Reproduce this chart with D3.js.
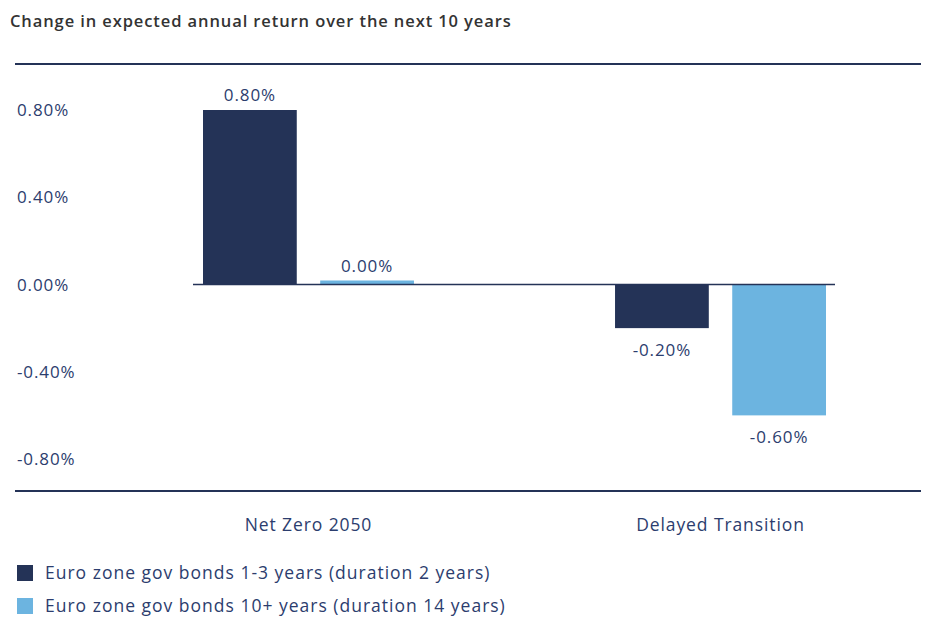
<!DOCTYPE html>
<html><head><meta charset="utf-8">
<script src="https://cdn.jsdelivr.net/npm/d3@7"></script>
<style>body{margin:0;background:#fff;font-family:"Open Sans",sans-serif}text{letter-spacing:0.9px}</style>
</head><body><svg id="chart" width="946" height="633"></svg>
<script>
var categories = ["Net Zero 2050", "Delayed Transition"];
var seriesNames = ["Euro zone gov bonds 1-3 years (duration 2 years)", "Euro zone gov bonds 10+ years (duration 14 years)"];
var shortBonds = [0.80, -0.20];
var longBonds = [0.00, -0.60];
var yTicks = [0.8, 0.4, 0, -0.4, -0.8];
var colors = ["#243357", "#6cb4e0"];
var textColor = "#2c3d6e";

var svg = d3.select("#chart");
var y = d3.scaleLinear().domain([-0.8, 0.8]).range([459, 110]);
var x0 = d3.scaleBand().domain(categories).range([203, 826]).paddingInner(0.488).paddingOuter(0);
var x1 = d3.scaleBand().domain([0, 1]).range([0, x0.bandwidth()]).paddingInner(0.2);

svg.append("text").attr("x", 10).attr("y", 27).attr("font-size", 16.5).attr("font-weight", 600)
  .attr("fill", "#333").text("Change in expected annual return over the next 10 years");

svg.append("line").attr("x1", 15).attr("x2", 921).attr("y1", 64).attr("y2", 64).attr("stroke", colors[0]).attr("stroke-width", 2);
svg.append("line").attr("x1", 15).attr("x2", 921).attr("y1", 491).attr("y2", 491).attr("stroke", colors[0]).attr("stroke-width", 2);

//y tick labels
svg.selectAll(".yt").data(yTicks).enter().append("text")
  .attr("x", 17).attr("y", function(d){ return y(d) + 6; })
  .attr("font-size", 17).attr("fill", textColor)
  .text(function(d){ return d.toFixed(2) + "%"; });

var rows = [];
categories.forEach(function(c, i){
  rows.push({cat: c, s: 0, v: shortBonds[i]});
  rows.push({cat: c, s: 1, v: longBonds[i]});
});

svg.selectAll(".bar").data(rows).enter().append("rect")
  .attr("x", function(d){ return x0(d.cat) + x1(d.s); })
  .attr("width", x1.bandwidth())
  .attr("y", function(d){ return d.v === 0 ? y(0) - 4 : Math.min(y(d.v), y(0)); })
  .attr("height", function(d){ return d.v === 0 ? 4 : Math.abs(y(d.v) - y(0)); })
  .attr("fill", function(d){ return colors[d.s]; });

svg.append("line").attr("x1", 193).attr("x2", 835).attr("y1", y(0)).attr("y2", y(0)).attr("stroke", colors[0]).attr("stroke-width", 1.5);

svg.selectAll(".vl").data(rows).enter().append("text")
  .attr("x", function(d){ return x0(d.cat) + x1(d.s) + x1.bandwidth() / 2; })
  .attr("y", function(d){ return d.v >= 0 ? y(d.v) - 9 - (d.v === 0 ? 4 : 0) : y(d.v) + 28; })
  .attr("text-anchor", "middle").attr("font-size", 17).attr("fill", textColor)
  .text(function(d){ return d.v.toFixed(2) + "%"; });

svg.selectAll(".cl").data(categories).enter().append("text")
  .attr("x", function(d){ return x0(d) + x0.bandwidth() / 2; }).attr("y", 531)
  .attr("text-anchor", "middle").attr("font-size", 17.5).attr("fill", textColor).text(function(d){ return d; });

var lg = svg.selectAll(".lg").data(seriesNames).enter().append("g")
  .attr("transform", function(d, i){ return "translate(17," + (565 + i * 33) + ")"; });
lg.append("rect").attr("width", 16).attr("height", 16).attr("fill", function(d, i){ return colors[i]; });
lg.append("text").attr("x", 28).attr("y", 14).attr("font-size", 17.5).attr("fill", textColor)
  .style("letter-spacing", "1px").text(function(d){ return d; });
</script></body></html>
